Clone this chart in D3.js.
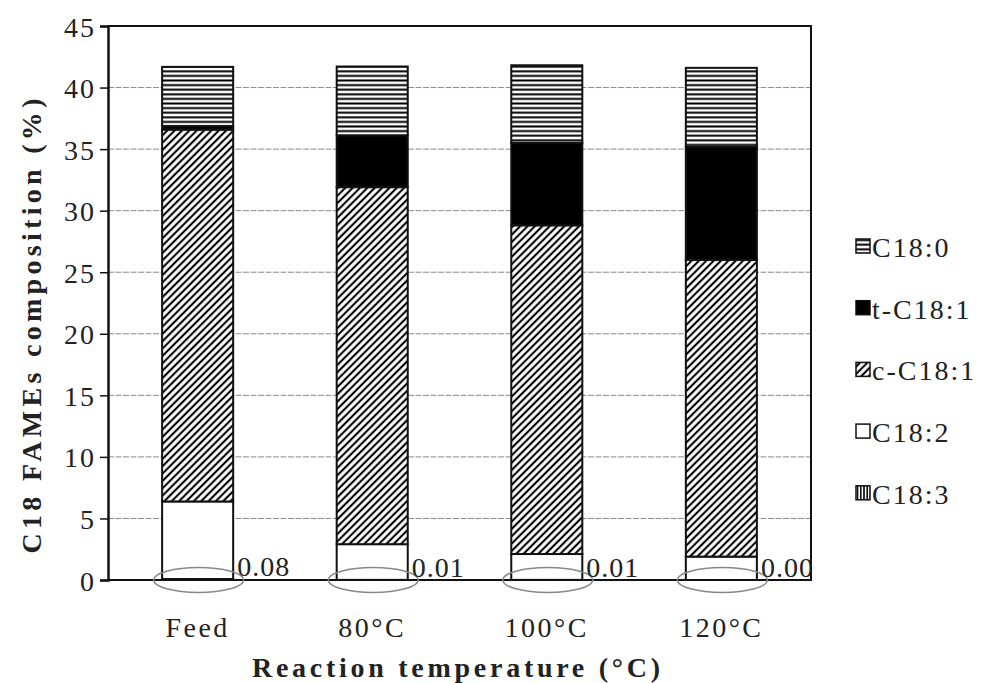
<!DOCTYPE html>
<html>
<head>
<meta charset="utf-8">
<script src="https://cdn.jsdelivr.net/npm/d3@7/dist/d3.min.js"></script>
<style>
  html, body { margin: 0; padding: 0; background: #fff; }
  svg { display: block; }
  svg text { font-family: "Liberation Serif", "Times New Roman", serif; fill: #222; }
</style>
</head>
<body>
<svg id="chart" width="984" height="683"></svg>
<script>
// Reaction temperatures (categories)
const categories = ["Feed", "80\u00B0C", "100\u00B0C", "120\u00B0C"];
// Stack order from the bottom up
const seriesNames = ["C18:3", "C18:2", "c-C18:1", "t-C18:1", "C18:0"];
// Composition (%) of each C18 FAME per temperature
const c183 = [0.08, 0.01, 0.01, 0.00];
const c182 = [6.3, 2.9, 2.1, 1.9];
const cC181 = [30.2, 29.0, 26.7, 24.1];
const tC181 = [0.3, 4.2, 6.7, 9.2];
const c180 = [4.8, 5.6, 6.3, 6.4];
// Labelled C18:3 values
const c183Labels = ["0.08", "0.01", "0.01", "0.00"];
const yTicks = [0, 5, 10, 15, 20, 25, 30, 35, 40, 45];
const legendOrder = ["C18:0", "t-C18:1", "c-C18:1", "C18:2", "C18:3"];

const seriesValues = {
  "C18:3": c183, "C18:2": c182, "c-C18:1": cC181, "t-C18:1": tC181, "C18:0": c180
};
const rows = categories.map((c, i) => {
  const r = { cat: c };
  seriesNames.forEach(s => { r[s] = seriesValues[s][i]; });
  return r;
});

const svg = d3.select("#chart");
const plot = { left: 108, right: 811, top: 26, bottom: 580 };

const x = d3.scaleBand().domain(categories)
  .range([plot.left, plot.right]).paddingInner(0.593).paddingOuter(0.31);
const y = d3.scaleLinear().domain([0, 45]).range([plot.bottom, plot.top]);

// Fill patterns
const defs = svg.append("defs");
function linePattern(id, angle, size, lw) {
  const p = defs.append("pattern").attr("id", id)
    .attr("patternUnits", "userSpaceOnUse")
    .attr("width", size).attr("height", size)
    .attr("patternTransform", `rotate(${angle})`);
  p.append("rect").attr("width", size).attr("height", size).attr("fill", "#fff");
  p.append("line").attr("x1", size / 2).attr("y1", 0).attr("x2", size / 2).attr("y2", size)
    .attr("stroke", "#000").attr("stroke-width", lw);
}
linePattern("pat-hatch", 45, 5.2, 2.1);
linePattern("pat-horiz", 90, 4.6, 2.0);
linePattern("pat-vert", 0, 3.2, 1.5);

const fills = {
  "C18:0": "url(#pat-horiz)",
  "t-C18:1": "#000",
  "c-C18:1": "url(#pat-hatch)",
  "C18:2": "#fff",
  "C18:3": "url(#pat-vert)"
};

// Gridlines
svg.append("g").selectAll("line")
  .data(yTicks.filter(t => t > 0 && t < 45))
  .join("line")
  .attr("x1", plot.left).attr("x2", plot.right)
  .attr("y1", d => y(d)).attr("y2", d => y(d))
  .attr("stroke", "#8a8a8a").attr("stroke-width", 1)
  .attr("stroke-dasharray", "6,1.5");

// Plot frame
svg.append("path")
  .attr("d", `M${plot.left},${plot.top}H${plot.right}V${plot.bottom}H${plot.left}`)
  .attr("fill", "none").attr("stroke", "#111").attr("stroke-width", 2);

// Stacked bars
const stack = d3.stack().keys(seriesNames)(rows);
const gBars = svg.append("g");
stack.forEach(layer => {
  gBars.append("g").selectAll("rect")
    .data(layer)
    .join("rect")
    .attr("x", d => x(d.data.cat))
    .attr("width", x.bandwidth())
    .attr("y", d => y(d[1]))
    .attr("height", d => Math.max(0, y(d[0]) - y(d[1])))
    .attr("fill", fills[layer.key])
    .attr("stroke", "#111").attr("stroke-width", 2);
});

// Y axis
const yAxis = svg.append("g")
  .attr("transform", `translate(${plot.left},0)`)
  .call(d3.axisLeft(y).tickValues(yTicks).tickSize(8).tickPadding(4));
yAxis.attr("font-family", null).attr("font-size", null);
yAxis.select(".domain").attr("stroke", "#111").attr("stroke-width", 2.5);
yAxis.selectAll(".tick line").attr("stroke", "#111").attr("stroke-width", 1.5);
yAxis.selectAll(".tick text")
  .attr("font-size", 28).attr("letter-spacing", 2).attr("fill", null)
  .attr("dy", "0.36em");

// X category labels
svg.append("g").selectAll("text")
  .data(categories).join("text")
  .attr("x", d => x(d) + x.bandwidth() / 2)
  .attr("y", 637)
  .attr("text-anchor", "middle")
  .attr("font-size", 28).attr("letter-spacing", 2.5)
  .text(d => d);

// Ellipses marking the C18:3 portion
svg.append("g").selectAll("ellipse")
  .data(categories).join("ellipse")
  .attr("cx", d => x(d) + x.bandwidth() / 2 + 1)
  .attr("cy", y(0))
  .attr("rx", 45).attr("ry", 12.5)
  .attr("fill", "none").attr("stroke", "#888").attr("stroke-width", 1.5);

// C18:3 value labels
svg.append("g").selectAll("text")
  .data(categories).join("text")
  .attr("x", d => x(d) + x.bandwidth() + 4)
  .attr("y", (d, i) => y(c183[i]) - 3)
  .attr("font-size", 28).attr("letter-spacing", 1)
  .text((d, i) => c183Labels[i]);

// Axis titles
svg.append("text")
  .attr("x", 456).attr("y", 677)
  .attr("text-anchor", "middle")
  .attr("font-size", 28).attr("font-weight", "bold")
  .attr("textLength", 408).attr("lengthAdjust", "spacing")
  .text("Reaction temperature (\u00B0C)");

svg.append("text")
  .attr("transform", "translate(41,326) rotate(-90)")
  .attr("text-anchor", "middle")
  .attr("font-size", 28).attr("font-weight", "bold")
  .attr("textLength", 455).attr("lengthAdjust", "spacing")
  .text("C18 FAMEs composition (%)");

// Legend
const legend = svg.append("g").attr("transform", "translate(856,247)");
const li = legend.selectAll("g").data(legendOrder).join("g")
  .attr("transform", (d, i) => `translate(0,${i * 61.7})`);
li.append("rect")
  .attr("x", 0).attr("y", -8).attr("width", 14).attr("height", 14)
  .attr("fill", d => fills[d]).attr("stroke", "#111").attr("stroke-width", 1.5);
li.append("text")
  .attr("x", 16).attr("y", 10)
  .attr("font-size", 28).attr("letter-spacing", 2)
  .text(d => d);
</script>
</body>
</html>
